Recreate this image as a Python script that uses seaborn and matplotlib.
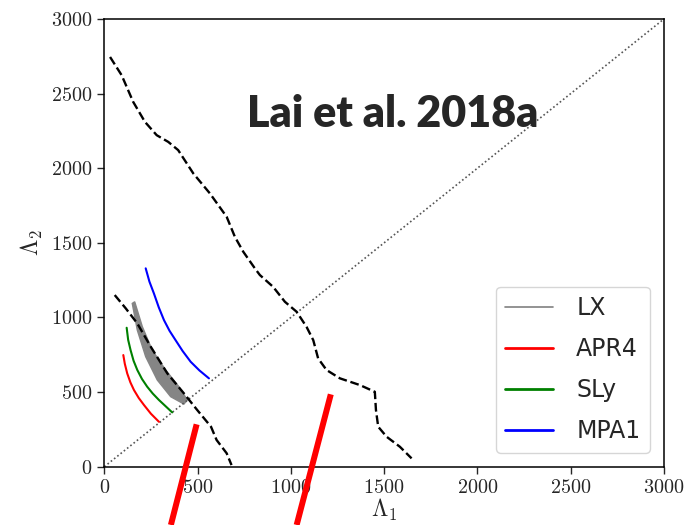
import matplotlib
matplotlib.use("Agg")
import matplotlib.pyplot as plt
from matplotlib.lines import Line2D
import pandas as pd
import seaborn as sns

# --- data (Lambda_1, Lambda_2) ---
upper_x = [31, 93, 155, 218, 281, 343, 396, 477, 566, 656, 700, 745, 807, 834, 905, 968,
           1031, 1084, 1120, 1146, 1191, 1263, 1370, 1450, 1456, 1468, 1513, 1584, 1647]
upper_y = [2745, 2623, 2444, 2310, 2221, 2176, 2121, 1965, 1831, 1674, 1540, 1440, 1329, 1284, 1205, 1105,
           1038, 937, 848, 726, 648, 592, 547, 502, 380, 268, 201, 134, 56]

lower_x = [56, 115, 177, 249, 338, 427, 498, 572, 602, 656, 682]
lower_y = [1150, 1061, 960, 804, 625, 491, 380, 268, 179, 90, 11]

apr4_x = [102, 110, 123, 140, 159, 185, 213, 250, 293]
apr4_y = [748, 690, 625, 565, 514, 460, 413, 355, 301]
sly_x = [120, 128, 141, 157, 177, 202, 230, 260, 293, 364]
sly_y = [931, 850, 781, 710, 648, 588, 536, 490, 447, 364]
mpa1_x = [222, 242, 266, 292, 320, 350, 382, 420, 463, 510, 561]
mpa1_y = [1329, 1240, 1161, 1068, 982, 910, 848, 775, 703, 645, 592]

# LX band: inner and outer edges
lx_in_x = [150, 177, 222, 284, 356, 427]
lx_in_y = [1094, 915, 737, 581, 469, 420]
lx_out_x = [163, 204, 257, 329, 400, 445]
lx_out_y = [1105, 938, 781, 648, 536, 447]

# red overlay strokes (extend below the axes)
red1_x = [357, 495]
red1_y = [-390, 284]
red2_x = [1031, 1214]
red2_y = [-390, 485]

diag = [0, 3000]
ticks = [0, 500, 1000, 1500, 2000, 2500, 3000]

eos = pd.concat([
    pd.DataFrame({"L1": apr4_x, "L2": apr4_y, "EOS": "APR4"}),
    pd.DataFrame({"L1": sly_x, "L2": sly_y, "EOS": "SLy"}),
    pd.DataFrame({"L1": mpa1_x, "L2": mpa1_y, "EOS": "MPA1"}),
], ignore_index=True)
bounds = pd.concat([
    pd.DataFrame({"L1": upper_x, "L2": upper_y, "b": "upper"}),
    pd.DataFrame({"L1": lower_x, "L2": lower_y, "b": "lower"}),
], ignore_index=True)

sns.set_style("ticks")
plt.rcParams["font.family"] = ["cmr10", "DejaVu Serif"]
plt.rcParams["mathtext.fontset"] = "cm"
plt.rcParams["axes.formatter.use_mathtext"] = True

fig = plt.figure(figsize=(6.86, 5.25), dpi=100)
ax = fig.add_axes([0.152, 0.111, 0.816, 0.853])

ax.plot(diag, diag, ls=(0, (1, 1.5)), color="#555555", lw=1.2)

# LX band
ax.fill(lx_in_x + lx_out_x[::-1], lx_in_y + lx_out_y[::-1], color="#858585", lw=1.0, ec="#858585")

sns.lineplot(data=eos, x="L1", y="L2", hue="EOS", sort=False, estimator=None,
             palette={"APR4": "red", "SLy": "green", "MPA1": "blue"},
             lw=1.5, legend=False, ax=ax)
sns.lineplot(data=bounds, x="L1", y="L2", units="b", sort=False, estimator=None,
             color="black", lw=1.7, ls="--", ax=ax)

for xs, ys in [(red1_x, red1_y), (red2_x, red2_y)]:
    ax.plot(xs, ys, color="red", lw=4.3, clip_on=False, solid_capstyle="butt", zorder=5)

ax.set_xlim(0, 3000)
ax.set_ylim(0, 3000)
ax.set_xticks(ticks)
ax.set_yticks(ticks)
ax.tick_params(labelsize=14.5, length=5, width=1, direction="out")
for s in ax.spines.values():
    s.set_linewidth(1.1)
    s.set_color("black")
ax.set_xlabel(r"$\Lambda_1$", fontsize=17, labelpad=0)
ax.set_ylabel(r"$\Lambda_2$", fontsize=17, labelpad=4)

handles = [Line2D([], [], color="gray", lw=1.2),
           Line2D([], [], color="red", lw=2),
           Line2D([], [], color="green", lw=2),
           Line2D([], [], color="blue", lw=2)]
ax.legend(handles, ["LX", "APR4", "SLy", "MPA1"], loc="lower right",
          prop={"family": "DejaVu Sans", "size": 17}, labelspacing=0.72,
          handlelength=2.0, handletextpad=1.0, borderaxespad=0.6, frameon=True)

fig.text(0.36, 0.758, "Lai et al. 2018a", fontsize=31, fontweight="heavy",
         family="Lato", va="baseline", ha="left")

fig.savefig("out.png", dpi=100)
